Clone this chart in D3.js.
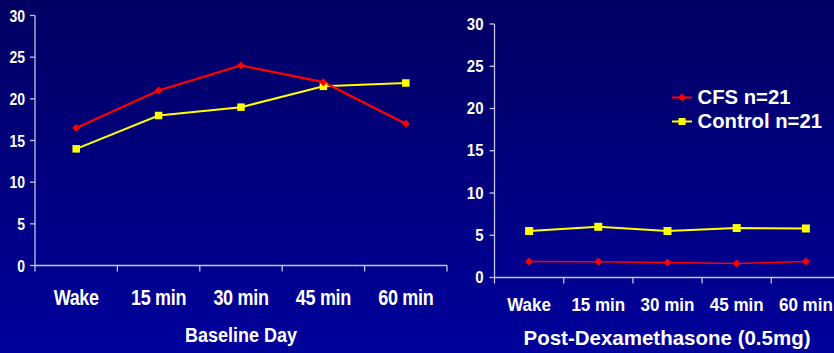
<!DOCTYPE html>
<html><head><meta charset="utf-8">
<script src="https://cdn.jsdelivr.net/npm/d3@7"></script>
<style>html,body{margin:0;padding:0;background:#000080;}svg{display:block;}</style>
</head><body>
<svg id="c" width="834" height="353"></svg>
<script>
const categories = ["Wake", "15 min", "30 min", "45 min", "60 min"];
const yTicks = [0, 5, 10, 15, 20, 25, 30];
const baselineCFS = [16.5, 21, 24, 22, 17];
const baselineControl = [14, 18, 19, 21.5, 21.9];
const dexCFS = [1.9, 1.85, 1.77, 1.65, 1.9];
const dexControl = [5.5, 6.0, 5.5, 5.85, 5.8];
const seriesNames = ["CFS n=21", "Control n=21"];
const panelTitles = ["Baseline Day", "Post-Dexamethasone (0.5mg)"];

const svg = d3.select("#c");
const defs = svg.append("defs");
const grad = defs.append("linearGradient").attr("id","bg").attr("x1",0).attr("y1",0).attr("x2",0).attr("y2",1);
grad.append("stop").attr("offset","0%").attr("stop-color","#000063");
grad.append("stop").attr("offset","100%").attr("stop-color","#00009c");
svg.append("rect").attr("width",834).attr("height",353).attr("fill","url(#bg)");

const axisColor = "#c4c4e4";
const font = "'Liberation Sans', Arial, sans-serif";

function panel(cfg) {
  const g = svg.append("g");
  const x = d3.scaleBand().domain(categories).range([cfg.x0, cfg.x1]);
  const y = d3.scaleLinear().domain([0, 30]).range([cfg.yb, cfg.yt]);
  // y axis
  g.append("line").attr("x1",cfg.x0).attr("x2",cfg.x0).attr("y1",cfg.yt).attr("y2",cfg.yb)
    .attr("stroke",axisColor).attr("stroke-width",1.3);
  yTicks.forEach(t => {
    g.append("line").attr("x1",cfg.x0-5).attr("x2",cfg.x0).attr("y1",y(t)).attr("y2",y(t))
      .attr("stroke",axisColor).attr("stroke-width",1.3);
    g.append("text").attr("transform",`translate(${cfg.x0-cfg.ylabOff},${y(t)}) scale(1,${cfg.sy})`)
      .attr("text-anchor","end").attr("dy","0.36em")
      .attr("fill","#fff").attr("font-family",font).attr("font-weight","bold")
      .attr("font-size",cfg.yfs).text(t);
  });
  // x axis
  g.append("line").attr("x1",cfg.x0).attr("x2",cfg.xAxisEnd).attr("y1",cfg.yb).attr("y2",cfg.yb)
    .attr("stroke",axisColor).attr("stroke-width",1.3);
  const edges = categories.map(c => x(c)).concat([cfg.x1]);
  edges.forEach(e => {
    g.append("line").attr("x1",e).attr("x2",e).attr("y1",cfg.yb).attr("y2",cfg.yb+6)
      .attr("stroke",axisColor).attr("stroke-width",1.3);
  });
  categories.forEach(c => {
    g.append("text").attr("transform",`translate(${x(c)+x.bandwidth()/2},${cfg.xlabY}) scale(1,${cfg.sy})`)
      .attr("text-anchor","middle").attr("fill","#fff").attr("font-family",font)
      .attr("font-weight","bold").attr("font-size",cfg.xfs).attr("letter-spacing",cfg.ls||0).text(c);
  });
  g.append("text").attr("transform",`translate(${cfg.titleX},${cfg.titleY}) scale(1,${cfg.tsy})`)
    .attr("text-anchor","middle").attr("fill","#fff").attr("font-family",font)
    .attr("font-weight","bold").attr("font-size",cfg.tfs).text(cfg.title);

  const line = d3.line().x((d,i) => x(categories[i]) + x.bandwidth()/2).y(d => y(d));
  // Control (yellow squares)
  g.append("path").attr("d", line(cfg.control)).attr("fill","none").attr("stroke","#ffff00").attr("stroke-width",2);
  g.append("path").attr("d", line(cfg.cfs)).attr("fill","none").attr("stroke","#ff0000").attr("stroke-width",cfg.redW);
  const s = cfg.sq;
  g.selectAll(".sq").data(cfg.control).enter().append("rect")
    .attr("x",(d,i)=>x(categories[i])+x.bandwidth()/2-s/2).attr("y",d=>y(d)-s/2)
    .attr("width",s).attr("height",s).attr("fill","#ffff00");
  const dm = cfg.dm;
  g.selectAll(".dm").data(cfg.cfs).enter().append("path")
    .attr("d",(d,i)=>{const cx=x(categories[i])+x.bandwidth()/2, cy=y(d);
      return `M${cx},${cy-dm}L${cx+dm},${cy}L${cx},${cy+dm}L${cx-dm},${cy}Z`;})
    .attr("fill","#ff0000");
}

panel({x0:35, x1:447, xAxisEnd:447, yt:15.5, yb:265.5, sy:1.22, yfs:14, ylabOff:10, xfs:18, ls:-0.3,
  xlabY:305, titleX:241, titleY:342, tsy:1.1, tfs:18, title:panelTitles[0],
  cfs:baselineCFS, control:baselineControl, redW:2.2, sq:7.5, dm:4});
panel({x0:494.5, x1:840.5, xAxisEnd:840, yt:24, yb:277.5, sy:1.05, yfs:15, ylabOff:11, xfs:17,
  xlabY:311, titleX:667, titleY:345, tsy:1.0, tfs:20.5, title:panelTitles[1],
  cfs:dexCFS, control:dexControl, redW:1.5, sq:8, dm:4});

// Legend
const leg = svg.append("g");
[{name:seriesNames[0], color:"#ff0000", y:97.5, mark:"d"},{name:seriesNames[1], color:"#ffff00", y:121.5, mark:"s"}].forEach(l => {
  leg.append("line").attr("x1",672).attr("x2",692).attr("y1",l.y).attr("y2",l.y).attr("stroke",l.color).attr("stroke-width",2);
  if (l.mark==="d") leg.append("path").attr("d",`M682,${l.y-4}L686,${l.y}L682,${l.y+4}L678,${l.y}Z`).attr("fill",l.color);
  else leg.append("rect").attr("x",678.5).attr("y",l.y-3.5).attr("width",7).attr("height",7).attr("fill",l.color);
  leg.append("text").attr("x",697.5).attr("y",l.y+6.8).attr("fill","#fff").attr("font-family",font)
    .attr("font-weight","bold").attr("font-size",20.3).text(l.name);
});
</script>
</body></html>
